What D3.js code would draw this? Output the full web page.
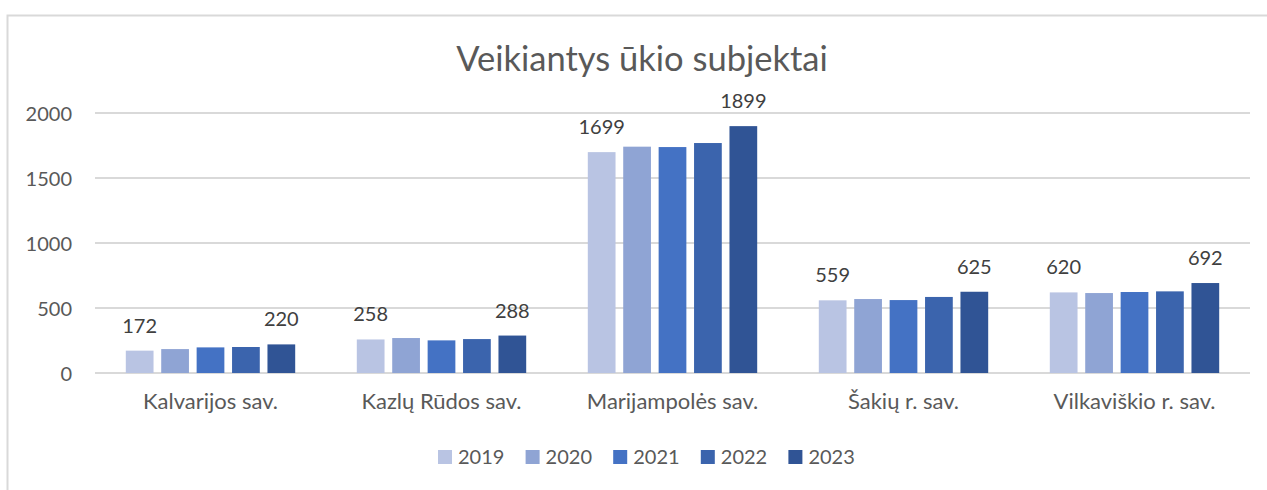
<!DOCTYPE html>
<html>
<head>
<meta charset="utf-8">
<script src="https://cdn.jsdelivr.net/npm/d3@7"></script>
<style>
  html, body { margin: 0; padding: 0; background: #fff; }
  svg { display: block; }
  text { font-family: Lato, "Open Sans", sans-serif; }
</style>
</head>
<body>
<svg id="chart" width="1267" height="490"></svg>
<script>
const title = "Veikiantys ūkio subjektai";
const categories = ["Kalvarijos sav.", "Kazlų Rūdos sav.", "Marijampolės sav.", "Šakių r. sav.", "Vilkaviškio r. sav."];
const years = ["2019", "2020", "2021", "2022", "2023"];
const v2019 = [172, 258, 1699, 559, 620];
const v2020 = [184, 269, 1741, 569, 615];
const v2021 = [197, 251, 1738, 561, 623];
const v2022 = [200, 261, 1769, 585, 628];
const v2023 = [220, 288, 1899, 625, 692];
const yTicks = [0, 500, 1000, 1500, 2000];
const colors = ["#b9c4e3", "#8fa4d4", "#4472c4", "#3b64ad", "#305495"];
const labeledSeries = ["2019", "2023"];

const seriesValues = [v2019, v2020, v2021, v2022, v2023];
const series = years.map((yr, i) => ({ year: yr, values: seriesValues[i], color: colors[i] }));

const svg = d3.select("#chart");

// chart border
svg.append("rect")
  .attr("x", 7.5).attr("y", 15.5)
  .attr("width", 1300).attr("height", 500)
  .attr("fill", "none").attr("stroke", "#d9d9d9").attr("stroke-width", 2);

const plotLeft = 95, plotRight = 1250, plotTop = 113, plotBottom = 373;

const x0 = d3.scaleBand().domain(categories).range([plotLeft, plotRight]).paddingInner(0).paddingOuter(0);
const x1 = d3.scaleBand().domain(years).range([30.8, x0.bandwidth() - 30.8]).paddingInner(0.217).paddingOuter(0);
const y = d3.scaleLinear().domain([0, 2000]).range([plotBottom, plotTop]);

// gridlines
svg.append("g").selectAll("line").data(yTicks).join("line")
  .attr("x1", plotLeft).attr("x2", plotRight)
  .attr("y1", d => y(d)).attr("y2", d => y(d))
  .attr("stroke", "#d9d9d9").attr("stroke-width", 2);

// y axis labels
const yAxis = d3.axisLeft(y).tickValues(yTicks).tickSize(0).tickPadding(0).tickFormat(d3.format("d"));
const yg = svg.append("g").attr("transform", `translate(${72},0)`).call(yAxis);
yg.select(".domain").remove();
yg.selectAll("text").attr("font-size", 20).attr("fill", "#595959").attr("font-family", "Lato, sans-serif").attr("dy", "0.35em");

// x axis labels
const xAxis = d3.axisBottom(x0).tickSize(0).tickPadding(0);
const xg = svg.append("g").attr("transform", `translate(0,${plotBottom})`).call(xAxis);
xg.select(".domain").remove();
xg.selectAll("text").attr("font-size", 22).attr("fill", "#595959").attr("font-family", "Lato, sans-serif").attr("y", 36).attr("dy", 0);

// bars
const groups = svg.append("g").selectAll("g").data(categories).join("g")
  .attr("transform", d => `translate(${x0(d)},0)`);

groups.selectAll("rect").data((c, ci) => series.map(s => ({ year: s.year, value: s.values[ci], color: s.color })))
  .join("rect")
  .attr("x", d => x1(d.year))
  .attr("width", x1.bandwidth())
  .attr("y", d => y(d.value))
  .attr("height", d => y(0) - y(d.value))
  .attr("fill", d => d.color);

// data labels
groups.selectAll("text.lbl").data((c, ci) => series.filter(s => labeledSeries.includes(s.year)).map(s => ({ year: s.year, value: s.values[ci] })))
  .join("text").attr("class", "lbl")
  .attr("x", d => x1(d.year) + x1.bandwidth() / 2)
  .attr("y", d => y(d.value) - 18)
  .attr("text-anchor", "middle")
  .attr("font-size", 20).attr("fill", "#404040")
  .text(d => d.value);

// title
svg.append("text")
  .attr("x", 642).attr("y", 71)
  .attr("text-anchor", "middle")
  .attr("font-size", 34.5).attr("fill", "#595959")
  .text(title);

// legend
const legX = d3.scaleBand().domain(years).range([438, 438 + 87.6 * 5]);
const leg = svg.append("g").selectAll("g").data(series).join("g")
  .attr("transform", d => `translate(${legX(d.year)},450)`);
leg.append("rect").attr("width", 14).attr("height", 14).attr("fill", d => d.color);
leg.append("text").attr("x", 20).attr("y", 14).attr("font-size", 20).attr("fill", "#595959").text(d => d.year);
</script>
</body>
</html>
